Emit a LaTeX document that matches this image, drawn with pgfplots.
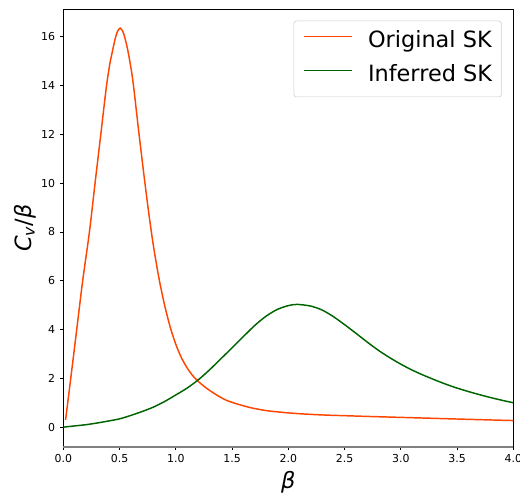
\documentclass[border=0pt]{standalone}
\usepackage{fontspec}
\setmainfont{DejaVu Sans}
\usepackage{pgfplots}
\pgfplotsset{compat=1.18}
\definecolor{origc}{HTML}{FF4500}
\definecolor{infc}{HTML}{006400}
\begin{document}
\begin{tikzpicture}
\begin{axis}[
  name=ax,
  scale only axis,
  width=337.5pt, height=328pt,
  xmin=0, xmax=4, ymin=-0.8, ymax=17.12,
  xtick={0,0.5,...,4}, ytick={0,2,...,16},
  xtick pos=left, ytick pos=left,
  tick align=outside,
  major tick length=2.6pt,
  every tick/.style={black, line width=0.6pt},
  axis line style={line width=0.6pt},
  /pgf/number format/assume math mode=true,
  xticklabel style={font=\fontsize{8.2}{9}\selectfont, /pgf/number format/.cd, fixed, fixed zerofill, precision=1},
  yticklabel style={font=\fontsize{8.2}{9}\selectfont},
  xlabel={\itshape β},
  ylabel={{\itshape C}\textsubscript{\itshape v}/{\itshape β}},
  xlabel style={font=\fontsize{16.8}{20}\selectfont, at={(axis description cs:0.5,0)}, anchor=center, yshift=-26.9pt},
  ylabel style={font=\fontsize{16.8}{20}\selectfont, at={(axis description cs:0,0.5)}, anchor=center, yshift=28.8pt},
  legend style={at={(0.974,0.974)}, anchor=north east, draw=black!20, rounded corners=2pt, fill=white,
    font=\fontsize{16.8}{20}\selectfont, inner xsep=7pt, inner ysep=7.5pt, row sep=9pt, column sep=11.5pt,
    nodes={inner sep=0pt, text height=12.5pt, text depth=4pt}},
  legend cell align=left,
  legend image code/.code={\draw[#1, line width=1.1pt] (0pt,0.42em) -- (36pt,0.42em);},
  every axis plot/.append style={line width=1.1pt, smooth, tension=0.45},
]
\addplot[origc] coordinates {
(0.02,0.30) (0.066,2.0) (0.119,4.0) (0.172,6.0) (0.232,8.0) (0.282,10.0) (0.333,12.0)
(0.38,13.85) (0.41,14.8) (0.434,15.35) (0.46,15.9) (0.48,16.2) (0.505,16.35) (0.53,16.2)
(0.55,15.9) (0.579,15.3) (0.618,14.2) (0.668,12.2) (0.712,10.5) (0.757,8.85) (0.80,7.45)
(0.85,6.1) (0.90,5.0) (0.95,4.1) (1.0,3.39) (1.05,2.84) (1.10,2.43) (1.15,2.11) (1.20,1.87)
(1.28,1.57) (1.38,1.27) (1.45,1.1) (1.53,0.97) (1.663,0.80) (1.8,0.68)
(1.96,0.60) (2.1,0.55) (2.3,0.50) (2.5,0.47) (2.7,0.44) (3.0,0.40) (3.3,0.36) (3.6,0.32) (4.0,0.27)
};
\addlegendentry{Original SK}
\addplot[infc] coordinates {
(0,0) (0.1,0.05) (0.2,0.10) (0.3,0.17) (0.4,0.25) (0.5,0.34) (0.6,0.48) (0.7,0.64)
(0.8,0.82) (0.9,1.05) (1.0,1.32) (1.1,1.6) (1.2,1.94) (1.3,2.35) (1.4,2.8) (1.5,3.25)
(1.6,3.71) (1.7,4.16) (1.8,4.54) (1.9,4.82) (2.0,4.98) (2.08,5.03) (2.2,4.96) (2.3,4.80)
(2.4,4.53) (2.5,4.20) (2.6,3.85) (2.7,3.49) (2.8,3.15) (2.9,2.85) (3.0,2.58) (3.1,2.34)
(3.2,2.13) (3.3,1.94) (3.4,1.76) (3.5,1.60) (3.6,1.46) (3.7,1.33) (3.8,1.21) (3.9,1.10) (4.0,1.0)
};
\addlegendentry{Inferred SK}
\end{axis}
\draw[gray, line width=1.5pt] (ax.south west) -- (ax.south east);
\pgfresetboundingbox
\useasboundingbox ([xshift=-47.5pt,yshift=-34.7pt]ax.south west) rectangle ([xshift=5pt,yshift=7pt]ax.north east);
\end{tikzpicture}
\end{document}
